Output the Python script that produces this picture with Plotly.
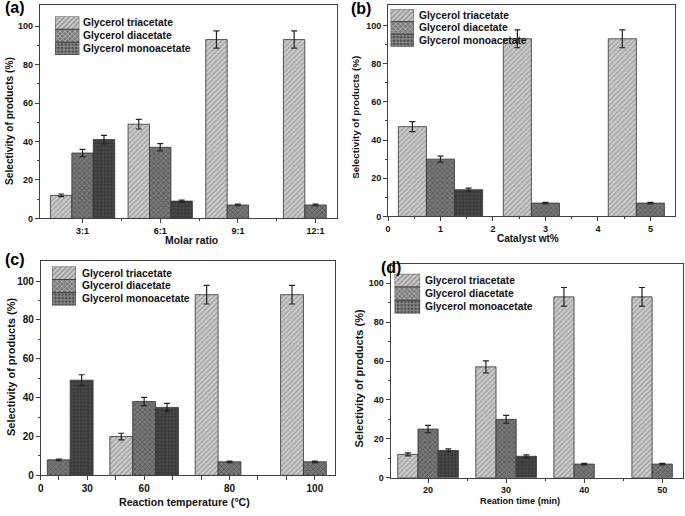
import plotly.graph_objects as go

W, H = 685, 516

series_names = ["Glycerol triacetate", "Glycerol diacetate", "Glycerol monoacetate"]

# ---- (a) molar ratio ----
molar_ratio = ["3:1", "6:1", "9:1", "12:1"]
a_tri = [12, 49, 93, 93]
a_tri_err = [0.7, 2.5, 4.5, 4.5]
a_di = [34, 37, 7, 7]
a_di_err = [1.9, 1.9, 0.4, 0.4]
a_mono = [41, 9, None, None]
a_mono_err = [2.2, 0.5, 0, 0]

# ---- (b) catalyst wt% ----
catalyst_wt = [1, 3, 5]
catalyst_ticks = [0, 1, 2, 3, 4, 5]
b_tri = [47, 93, 93]
b_tri_err = [2.6, 4.7, 4.7]
b_di = [30, 7, 7]
b_di_err = [1.6, 0.4, 0.4]
b_mono = [14, None, None]
b_mono_err = [0.8, 0, 0]

# ---- (c) reaction temperature ----
temperature = ["30", "60", "80", "100"]
temp_tick_labels = ["0", "30", "60", "80", "100"]
c_tri = [None, 20, 93, 93]
c_tri_err = [0, 1.7, 4.8, 4.8]
c_di = [8, 38, 7, 7]
c_di_err = [0.4, 2.1, 0.4, 0.4]
c_mono = [49, 35, None, None]
c_mono_err = [2.8, 2.1, 0, 0]

# ---- (d) reaction time ----
time_min = ["20", "30", "40", "50"]
d_tri = [12, 57, 93, 93]
d_tri_err = [0.8, 3.1, 4.8, 4.8]
d_di = [25, 30, 7, 7]
d_di_err = [1.9, 2.0, 0.4, 0.4]
d_mono = [14, 11, None, None]
d_mono_err = [0.8, 0.7, 0, 0]

y_ticks = [0, 20, 40, 60, 80, 100]

# ---- styles ----
bg_colors = ["#cfcfcf", "#7a7a7a", "#4c4c4c"]
fg_colors = ["#6a6a6a", "#2a2a2a", "#151515"]
shapes = ["/", "x", "+"]
pat_sizes = [3.5, 3.5, 3.5]
edge = "#333333"
axis_col = "#404040"
FONT = "Arial, Liberation Sans, sans-serif"


def px_x(p):
    return p / W


def px_y(p):
    return 1 - p / H


def bold(lst):
    return [f"<b>{s}</b>" if s != "" else "" for s in lst]


fig = go.Figure()


def add_group(xref, yref, xs, vals, errs, width):
    for k in range(3):
        fig.add_trace(go.Bar(
            x=xs, y=vals[k], name=series_names[k], showlegend=False,
            xaxis=xref, yaxis=yref,
            width=width, offset=(k - 1.5) * width,
            marker=dict(color=bg_colors[k], line=dict(color=edge, width=0.8),
                        pattern=dict(shape=shapes[k], fgcolor=fg_colors[k],
                                     bgcolor=bg_colors[k], size=pat_sizes[k],
                                     solidity=0.4)),
            error_y=dict(type="data", array=errs[k], color="#222222",
                         thickness=1.2, width=3),
        ))


idx4 = [0, 1, 2, 3]
add_group("x", "y", idx4, [a_tri, a_di, a_mono], [a_tri_err, a_di_err, a_mono_err], 0.276)
add_group("x2", "y2", catalyst_wt, [b_tri, b_di, b_mono], [b_tri_err, b_di_err, b_mono_err], 0.535)
idx4c = [1, 2, 3, 4]
add_group("x3", "y3", idx4c, [c_tri, c_di, c_mono], [c_tri_err, c_di_err, c_mono_err], 0.268)
add_group("x4", "y4", idx4, [d_tri, d_di, d_mono], [d_tri_err, d_di_err, d_mono_err], 0.259)

# ---- panel geometry (pixels) ----
panels = {
    "a": dict(x0=37, x1=335, y0=5, y1=221),
    "b": dict(x0=386.7, x1=675, y0=5, y1=219),
    "c": dict(x0=38, x1=333, y0=264.3, y1=481),
    "d": dict(x0=389.3, x1=683.3, y0=267.3, y1=483.3),
}


def base_axis(fs):
    return dict(showline=True, linecolor=axis_col, linewidth=1, mirror=True,
                ticks="outside", ticklen=4, tickwidth=1, tickcolor=axis_col,
                showgrid=False, zeroline=False,
                tickfont=dict(family=FONT, size=fs, color="#111111"))


def yaxis_for(p, fs, ymax, anchor):
    d = base_axis(fs)
    d.update(domain=[px_y(panels[p]["y1"]), px_y(panels[p]["y0"])], range=[0, ymax],
             tickvals=y_ticks, ticktext=bold([str(v) for v in y_ticks]), anchor=anchor,
             minor=dict(tickvals=[10, 30, 50, 70, 90], ticks="outside", ticklen=2,
                        tickcolor=axis_col))
    return d


# x axes
xa = base_axis(9)
xa.update(domain=[px_x(37), px_x(335)], range=[-0.55, 3.27], tickvals=idx4,
          ticktext=bold(molar_ratio), anchor="y",
          minor=dict(tickvals=[0.5, 1.5, 2.5], ticks="outside", ticklen=2, tickcolor=axis_col))
xb = base_axis(9)
xb.update(domain=[px_x(386.7), px_x(675)], range=[0, 5.47], tickvals=catalyst_ticks,
          ticktext=bold([str(v) for v in catalyst_ticks]), anchor="y2",
          minor=dict(tickvals=[0.5, 1.5, 2.5, 3.5, 4.5], ticks="outside", ticklen=2, tickcolor=axis_col))
xc = base_axis(10)
c_ticks = [0.79, 1, 1 + 1 / 3, 1 + 2 / 3, 2, 2 + 1 / 3, 2 + 2 / 3, 3, 3 + 1 / 3, 3 + 2 / 3, 4]
c_text = [temp_tick_labels[0], "", temp_tick_labels[1], "", temp_tick_labels[2], "", "",
          temp_tick_labels[3], "", "", temp_tick_labels[4]]
xc.update(domain=[px_x(38), px_x(333)], range=[0.79, 4.23], tickvals=c_ticks,
          ticktext=bold(c_text), anchor="y3")
xd = base_axis(9)
xd.update(domain=[px_x(389.3), px_x(683.3)], range=[-0.48, 3.27], tickvals=idx4,
          ticktext=bold(time_min), anchor="y4",
          minor=dict(tickvals=[0.5, 1.5, 2.5], ticks="outside", ticklen=2, tickcolor=axis_col))

fig.update_layout(
    width=W, height=H, margin=dict(l=0, r=0, t=0, b=0),
    paper_bgcolor="white", plot_bgcolor="white", barmode="overlay",
    showlegend=False,
    xaxis=xa, xaxis2=xb, xaxis3=xc, xaxis4=xd,
    yaxis=yaxis_for("a", 9, 111, "x"),
    yaxis2=yaxis_for("b", 9, 110.7, "x2"),
    yaxis3=yaxis_for("c", 10, 110.2, "x3"),
    yaxis4=yaxis_for("d", 9, 109.8, "x4"),
)

annotations = []

# ---- legend swatches (separate hidden axes) ----
legend_boxes = [
    dict(x0=52.3, x1=76.7, y0=16.7, y1=55.7, tx=78.3, fs=10.3),
    dict(x0=389.3, x1=412.7, y0=9.3, y1=47.3, tx=416, fs=10.3),
    dict(x0=49.3, x1=73.3, y0=269.7, y1=309, tx=77.3, fs=10.3),
    dict(x0=393.3, x1=419, y0=277, y1=317.3, tx=421.7, fs=10.3),
]
for i, lb in enumerate(legend_boxes):
    n = 5 + i
    fig.add_trace(go.Bar(
        x=[1, 1, 1], y=[0, 1, 2], orientation="h", width=1, showlegend=False,
        xaxis=f"x{n}", yaxis=f"y{n}", hoverinfo="skip",
        marker=dict(color=bg_colors, line=dict(color=edge, width=0.8),
                    pattern=dict(shape=shapes, fgcolor=fg_colors, bgcolor=bg_colors,
                                 size=pat_sizes, solidity=0.4)),
    ))
    fig.update_layout(**{
        f"xaxis{n}": dict(domain=[px_x(lb["x0"]), px_x(lb["x1"])], range=[0, 1],
                          visible=False, anchor=f"y{n}", fixedrange=True),
        f"yaxis{n}": dict(domain=[px_y(lb["y1"]), px_y(lb["y0"])], range=[2.5, -0.5],
                          visible=False, anchor=f"x{n}", fixedrange=True),
    })
    rh = (lb["y1"] - lb["y0"]) / 3
    for k in range(3):
        annotations.append(dict(
            xref="paper", yref="paper", x=px_x(lb["tx"]),
            y=px_y(lb["y0"] + rh * (k + 0.5)), xanchor="left", yanchor="middle",
            text=f"<b>{series_names[k]}</b>", showarrow=False,
            font=dict(family=FONT, size=lb["fs"], color="#111111")))

# ---- axis titles ----
ytitle = "Selectivity of products (%)"
axis_titles = [
    (ytitle, 6, 122.5, 10.2, -90),
    ("Molar ratio", 189, 243, 10.4, 0),
    (ytitle, 353.3, 118.5, 9.8, -90),
    ("Catalyst wt%", 527, 241, 10, 0),
    (ytitle, 8.7, 371.7, 11, -90),
    ("Reaction temperature (°C)", 182, 508, 10.6, 0),
    (ytitle, 358, 382.5, 11, -90),
    ("Reation time (min)", 519.5, 507, 9.2, 0),
]
for t, x, y, fs, ang in axis_titles:
    annotations.append(dict(
        xref="paper", yref="paper", x=px_x(x), y=px_y(y), xanchor="center",
        yanchor="middle", text=f"<b>{t}</b>", textangle=ang, showarrow=False,
        font=dict(family=FONT, size=fs, color="#111111")))

# ---- panel labels ----
panel_labels = [("(a)", 0, 8), ("(b)", 348, 8.3), ("(c)", 0, 263), ("(d)", 378, 270.5)]
for t, x, y in panel_labels:
    annotations.append(dict(
        xref="paper", yref="paper", x=px_x(x), y=px_y(y), xanchor="left",
        yanchor="middle", text=f"<b>{t}</b>", showarrow=False,
        font=dict(family=FONT, size=16, color="#000000")))

fig.update_layout(annotations=annotations)

fig.write_html(
    "out.html",
    config={"displayModeBar": False},
    post_script="document.body.style.margin='0px';document.body.style.overflow='hidden';",
)
